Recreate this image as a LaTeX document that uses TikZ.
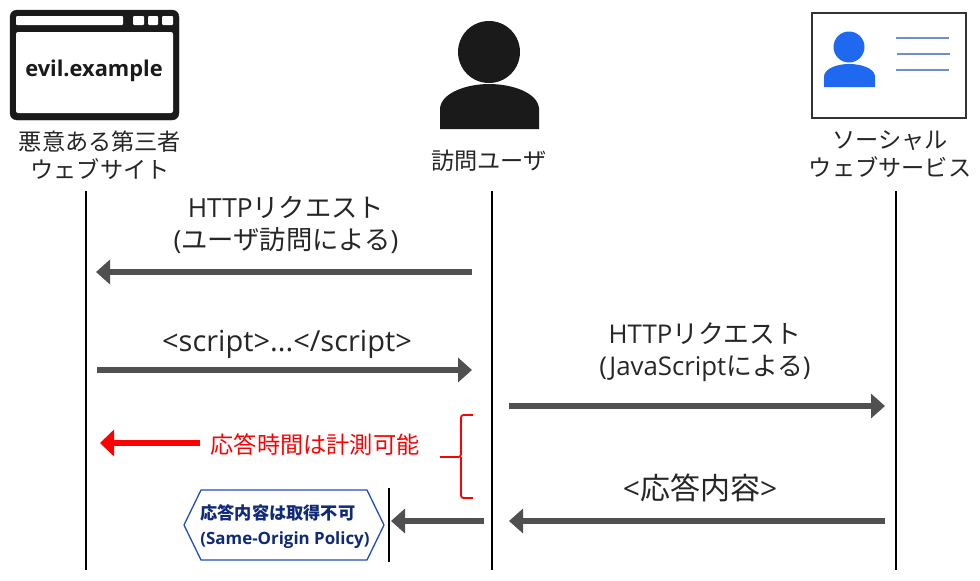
\documentclass[tikz,border=0pt]{standalone}
\usepackage{fontspec}
\setmainfont{Noto Sans CJK JP}
\newfontfamily\latinfont{Open Sans}
\usetikzlibrary{arrows.meta,shapes.geometric}
\definecolor{arrowgray}{HTML}{505050}
\definecolor{labelgray}{HTML}{262626}
\definecolor{iconblack}{HTML}{1A1A1A}
\definecolor{cardblue}{HTML}{1F68F0}
\definecolor{cardline}{HTML}{6F8FC8}
\definecolor{hexblue}{HTML}{1F4FB8}
\definecolor{hextext}{HTML}{0F2A78}
\tikzset{
  x=1pt,y=-1pt,
  lifeline/.style={draw=black,line width=2pt},
  msg/.style={draw=arrowgray,line width=6.5pt,-{Triangle[length=14pt,width=24pt]},shorten >=0pt},
  redmsg/.style={draw=red,line width=6.5pt,-{Triangle[length=14pt,width=26pt]}},
  lbl/.style={text=labelgray,font=\fontsize{23.2}{28}\selectfont,align=center,inner sep=0pt},
  msglbl/.style={text=labelgray,font=\fontsize{26.3}{32}\selectfont,align=center,inner sep=0pt},
  cardrule/.style={draw=cardline,line width=1.5pt},
}
\begin{document}
\begin{tikzpicture}
\useasboundingbox (0,0) rectangle (980,581);
\fill[white] (0,0) rectangle (980,581);
% browser window icon
\filldraw[fill=iconblack,draw=iconblack,rounded corners=7pt] (10,10) rectangle (179,120);
\fill[white,rounded corners=2pt] (16,32) rectangle (173,113);
\fill[white,rounded corners=1pt] (16,16) rectangle (123,25);
\fill[white,rounded corners=1pt] (133,16) rectangle (144,25);
\fill[white,rounded corners=1pt] (148,16) rectangle (158,25);
\fill[white,rounded corners=1pt] (162,16) rectangle (173,25);
\node[inner sep=0pt,text=iconblack,font=\fontsize{21.8}{26}\selectfont\latinfont\bfseries] (evil) at (94,71) {evil.example};
% person icon
\fill[iconblack] (489,52) circle[radius=31];
\fill[iconblack] (440,129) -- (440,108) .. controls (442,92) and (468,84) .. (489,84) .. controls (511,84) and (537,92) .. (539,108) -- (539,129) -- cycle;
% card icon
\draw[draw=black!80,line width=1.6pt] (812,13) rectangle (966,118);
\fill[cardblue] (849,47) circle[radius=15.5];
\fill[cardblue] (824,87) -- (824,76) .. controls (825,68) and (838,64) .. (849,64) .. controls (861,64) and (874,68) .. (875,76) -- (875,87) -- cycle;
\draw[cardrule] (896,38) -- (949,38);
\draw[cardrule] (897,54) -- (950,54);
\draw[cardrule] (896,70) -- (949,70);
% actor labels
\node[lbl] (evillabel) at (100,155) {悪意ある第三者\\ウェブサイト};
\node[lbl] (userlabel) at (489,161) {訪問ユーザ};
\node[lbl] (sociallabel) at (890,154) {ソーシャル\\ウェブサービス};
% lifelines
\coordinate (a0) at (86,191); \coordinate (a1) at (86,570);
\coordinate (b0) at (492,191); \coordinate (b1) at (492,570);
\coordinate (c0) at (896,191); \coordinate (c1) at (896,570);
\coordinate (d0) at (389,488); \coordinate (d1) at (389,562);
\draw[lifeline] (a0) -- (a1);
\draw[lifeline] (b0) -- (b1);
\draw[lifeline] (c0) -- (c1);
\draw[lifeline] (d0) -- (d1);
% messages
\coordinate (m1s) at (472,272); \coordinate (m1e) at (96,272);
\coordinate (m2s) at (97,370); \coordinate (m2e) at (472,370);
\coordinate (m3s) at (509,406); \coordinate (m3e) at (885,406);
\coordinate (m4s) at (885,521); \coordinate (m4e) at (509,521);
\coordinate (m5s) at (484,521); \coordinate (m5e) at (391,521);
\coordinate (m6s) at (200,443); \coordinate (m6e) at (100,443);
\draw[msg] (m1s) -- (m1e);
\draw[msg] (m2s) -- (m2e);
\draw[msg] (m3s) -- (m3e);
\draw[msg] (m4s) -- (m4e);
\draw[msg] (m5s) -- (m5e);
\draw[redmsg] (m6s) -- (m6e);
% message labels
\node[msglbl] (t1) at (286,225) {{\latinfont HTTP}リクエスト\\{\latinfont (}ユーザ訪問による{\latinfont )}};
\node[msglbl,font=\fontsize{29}{34}\selectfont] (t2) at (287,344) {\latinfont <script>...</script>};
\node[msglbl,font=\fontsize{25.8}{32}\selectfont] (t3) at (705,352) {{\latinfont HTTP}リクエスト\\{\latinfont (JavaScript}による{\latinfont )}};
\node[msglbl,font=\fontsize{30}{36}\selectfont] (t4) at (700,488) {{\latinfont <}応答内容{\latinfont >}};
\node[lbl,text=red] (t5) at (315,445) {応答時間は計測可能};
% brace
\draw[draw=red,line width=1.8pt,rounded corners=2.5pt] (473,415) -- (461,415) -- (461,457) -- (440,457);
\draw[draw=red,line width=1.8pt,rounded corners=2.5pt] (473,498) -- (461,498) -- (461,457);
% hexagon
\coordinate (h1) at (184,525); \coordinate (h2) at (201,490); \coordinate (h3) at (367,490);
\coordinate (h4) at (384,525); \coordinate (h5) at (367,560); \coordinate (h6) at (201,560);
\draw[draw=hexblue,line width=1.3pt,fill=white] (h1) -- (h2) -- (h3) -- (h4) -- (h5) -- (h6) -- cycle;
\node[inner sep=0pt,text=hextext,align=left,font=\fontsize{17.2}{25}\selectfont\bfseries] (hex) at (285,527) {応答内容は取得不可\\{\latinfont\fontsize{16.9}{25}\selectfont\bfseries (Same-Origin Policy)}};
\end{tikzpicture}
\end{document}
